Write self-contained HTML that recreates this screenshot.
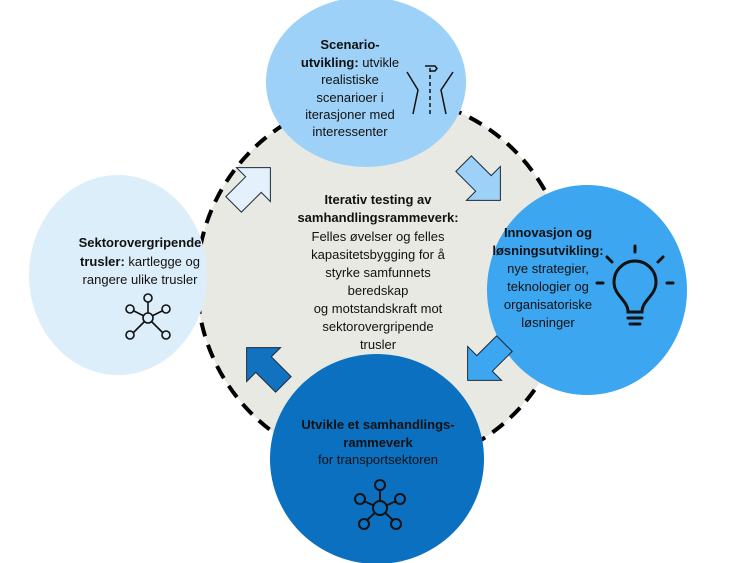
<!DOCTYPE html>
<html><head><meta charset="utf-8"><style>
body{margin:0;background:#fff}
svg{display:block}
text{font-family:"Liberation Sans",sans-serif;font-size:13px;fill:#111;text-anchor:middle}
.b{font-weight:bold}
</style></head><body>
<svg width="730" height="563" viewBox="0 0 730 563">
<defs>
<polygon id="arr" points="-26,-11 2,-11 2,-24 26,0 2,24 2,11 -26,11"/>
</defs>
<circle cx="383" cy="282" r="186" fill="#e9e9e4" stroke="#000" stroke-width="4" stroke-dasharray="14,9"/>
<ellipse cx="366" cy="82" rx="100" ry="85" fill="#9dd1f7"/>
<ellipse cx="118" cy="275" rx="89" ry="100" fill="#ddeefb"/>
<ellipse cx="587" cy="290" rx="100" ry="105" fill="#3ca6f0"/>
<ellipse cx="377" cy="459" rx="107" ry="105" fill="#0b70c0"/>
<use href="#arr" transform="translate(252,186) rotate(-45)" fill="#e4f1fc" stroke="#1a2a3a" stroke-width="1"/>
<use href="#arr" transform="translate(482,182) rotate(45)" fill="#9dd1f7" stroke="#1a2a3a" stroke-width="1"/>
<use href="#arr" transform="translate(486,362) rotate(135)" fill="#3ca6f0" stroke="#1a2a3a" stroke-width="1"/>
<use href="#arr" transform="translate(265,366) rotate(-135)" fill="#1272c0" stroke="#1a2a3a" stroke-width="1"/>

<text x="350" y="49" class="b">Scenario-</text>
<text x="350" y="67"><tspan class="b">utvikling:</tspan> utvikle</text>
<text x="350" y="84">realistiske</text>
<text x="350" y="102">scenarioer i</text>
<text x="350" y="119">iterasjoner med</text>
<text x="350" y="136">interessenter</text>
<g stroke="#111" stroke-width="1.5" fill="none">
<path d="M407 72 L418 90 L413 114 M453 72 L441 90 L446 114"/>
<path d="M430 68 V116" stroke-dasharray="4,3"/>
<path d="M430 66 h-5 M430 71 h5 l2 -2.5 l-2 -2.5 h-5"/>
</g>

<text x="140" y="247"><tspan class="b">Sektorovergripende</tspan></text>
<text x="140" y="266"><tspan class="b">trusler:</tspan> kartlegge og</text>
<text x="140" y="284">rangere ulike trusler</text>
<g stroke="#111" stroke-width="1.6" fill="#ddeefb">
<path d="M148 318 L148 300 M148 318 L132 310 M148 318 L164 310 M148 318 L132 334 M148 318 L164 334"/>
<circle cx="148" cy="318" r="5"/><circle cx="148" cy="298" r="4"/><circle cx="130" cy="309" r="4"/><circle cx="166" cy="309" r="4"/><circle cx="130" cy="335" r="4"/><circle cx="166" cy="335" r="4"/>
</g>

<text x="378" y="204" class="b">Iterativ testing av</text>
<text x="378" y="222" class="b">samhandlingsrammeverk:</text>
<text x="378" y="241">Felles øvelser og felles</text>
<text x="378" y="259">kapasitetsbygging for å</text>
<text x="378" y="277">styrke samfunnets</text>
<text x="378" y="295">beredskap</text>
<text x="378" y="313">og motstandskraft mot</text>
<text x="378" y="331">sektorovergripende</text>
<text x="378" y="349">trusler</text>

<text x="548" y="237" class="b">Innovasjon og</text>
<text x="548" y="255" class="b">løsningsutvikling:</text>
<text x="548" y="273">nye strategier,</text>
<text x="548" y="291">teknologier og</text>
<text x="548" y="309">organisatoriske</text>
<text x="548" y="327">løsninger</text>
<g stroke="#111" stroke-width="3" fill="none" stroke-linecap="round">
<path d="M628 312 C628 300 614 296 614 282 A21 21 0 0 1 656 282 C656 296 642 300 642 312 Z"/>
<path d="M628 318 h14 M630 324 h10"/>
<path d="M635 252 v-6 M612 262 l-5 -5 M658 262 l5 -5 M603 283 h-6 M667 283 h6"/>
</g>

<text x="378" y="429" class="b">Utvikle et samhandlings-</text>
<text x="378" y="447" class="b">rammeverk</text>
<text x="378" y="464">for transportsektoren</text>
<g stroke="#111" stroke-width="2" fill="#0b70c0">
<path d="M380 508 L380 487 M380 508 L361 500 M380 508 L399 500 M380 508 L364 523 M380 508 L396 523"/>
<circle cx="380" cy="508" r="7"/><circle cx="380" cy="485" r="5"/><circle cx="360" cy="499" r="5"/><circle cx="400" cy="499" r="5"/><circle cx="364" cy="524" r="5"/><circle cx="396" cy="524" r="5"/>
</g>
</svg>
</body></html>
